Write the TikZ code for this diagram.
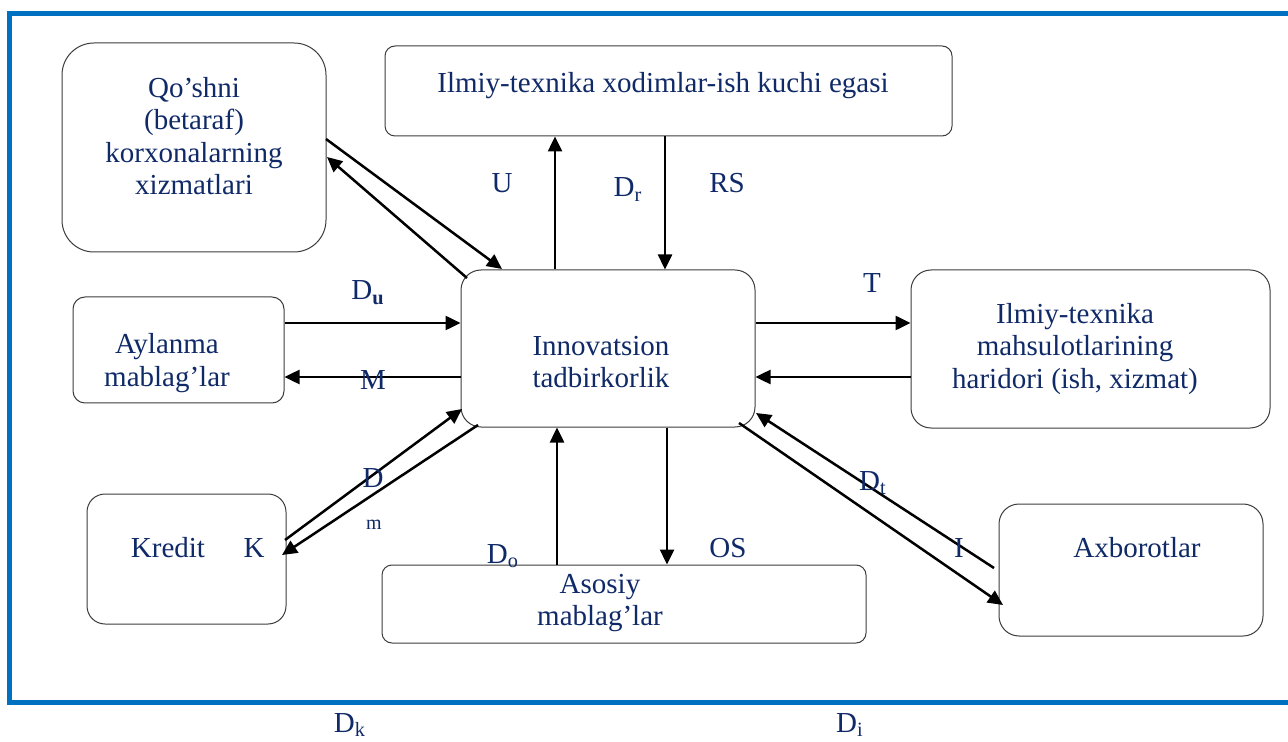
\documentclass[tikz,border=0pt]{standalone}
\usepackage{fontspec}
\setmainfont{Liberation Serif}
\usetikzlibrary{arrows.meta}
\definecolor{navy}{RGB}{16,42,104}
\definecolor{frameblue}{RGB}{0,112,192}
\definecolor{boxline}{RGB}{60,60,60}
\begin{document}
\begin{tikzpicture}[x=0.5pt,y=-0.5pt,
  box/.style={draw=boxline, line width=0.5pt, fill=white, inner sep=0pt},
  txt/.style={text=navy, font=\fontsize{14.5}{16.3}\selectfont, align=center, inner sep=0pt},
  lbl/.style={text=navy, font=\fontsize{14.5}{16.3}\selectfont, inner sep=0pt, anchor=base},
  small/.style={text=navy, font=\fontsize{10}{12}\selectfont, inner sep=0pt, anchor=base},
  arr/.style={line width=1.25pt, -{Triangle[length=7.5pt,width=7pt]}}]
\useasboundingbox (0,0) rectangle (1288,742);
% frame
\draw[frameblue, line width=2.5pt] (1288,14) -- (9.5,14) -- (9.5,702.5) -- (1288,702.5);
% boxes
\node[box, rounded corners=16pt, minimum width=132pt, minimum height=104.5pt] (qoshni) at (194,147.5) {};
\node[box, rounded corners=5pt, minimum width=283.5pt, minimum height=45pt] (xodim) at (668.5,91) {};
\node[box, rounded corners=10pt, minimum width=147pt, minimum height=78.5pt] (innov) at (608,348.5) {};
\node[box, rounded corners=10pt, minimum width=179.5pt, minimum height=79pt] (harid) at (1090.5,349) {};
\node[box, rounded corners=6pt, minimum width=105.5pt, minimum height=53pt] (aylan) at (178.5,350) {};
\node[box, rounded corners=9pt, minimum width=99.5pt, minimum height=65pt] (kredit) at (186.5,559) {};
\node[box, rounded corners=5pt, minimum width=242pt, minimum height=39pt] (asosiy) at (624,604) {};
\node[box, rounded corners=10pt, minimum width=132pt, minimum height=66pt] (axbor) at (1131,570) {};
% box texts
\node[txt] (tqoshni) at (194,136) {Qo’shni\\(betaraf)\\korxonalarning\\xizmatlari};
\node[lbl] (txodim) at (663,93) {Ilmiy-texnika xodimlar-ish kuchi egasi};
\node[txt] (tinnov) at (601,362) {Innovatsion\\tadbirkorlik};
\node[txt] (tharid) at (1075,349) {Ilmiy-texnika\\mahsulotlarining\\haridori (ish, xizmat)};
\node[txt] (taylan) at (167,363) {Aylanma\\mablag’lar};
\node[lbl] (tkredit) at (168,557) {Kredit};
\node[txt] (tasosiy) at (600,603) {Asosiy\\mablag’lar};
\node[lbl] (taxbor) at (1137,557) {Axborotlar};
% x / y helper coordinates
\coordinate (xu) at (555,0);
\coordinate (xr) at (665,0);
\coordinate (xdo) at (557,0);
\coordinate (xos) at (667,0);
\coordinate (yin) at (0,323);
\coordinate (yout) at (0,377);
% vertical arrows
\draw[arr] (innov.north -| xu) -- (xodim.south -| xu);
\draw[arr] (xodim.south -| xr) -- (innov.north -| xr);
\draw[arr] (asosiy.north -| xdo) -- (innov.south -| xdo);
\draw[arr] (innov.south -| xos) -- (asosiy.north -| xos);
% horizontal arrows
\draw[arr] (aylan.east |- yin) -- (innov.west |- yin);
\draw[arr] (innov.west |- yout) -- (aylan.east |- yout);
\draw[arr] (innov.east |- yin) -- (harid.west |- yin);
\draw[arr] (harid.west |- yout) -- (innov.east |- yout);
% diagonal endpoints
\coordinate (qa1) at (326,139);
\coordinate (qa2) at (502,269);
\coordinate (qb1) at (467,278);
\coordinate (qb2) at (327,157);
\coordinate (ka1) at (285,540);
\coordinate (ka2) at (462,409);
\coordinate (kb1) at (478,425);
\coordinate (kb2) at (282,555);
\coordinate (aa1) at (994,568);
\coordinate (aa2) at (756,413);
\coordinate (ab1) at (739,423);
\coordinate (ab2) at (1003,605);
\draw[arr] (qa1) -- (qa2);
\draw[arr] (qb1) -- (qb2);
\draw[arr] (ka1) -- (ka2);
\draw[arr] (kb1) -- (kb2);
\draw[arr] (aa1) -- (aa2);
\draw[arr] (ab1) -- (ab2);
% labels
\node[lbl] (lU) at (502,193) {U};
\node[lbl] (lDr) at (628,197) {D\textsubscript{r}};
\node[lbl] (lRS) at (727,193) {RS};
\node[lbl] (lDu) at (368,300) {D\textsubscript{\textbf{u}}};
\node[lbl] (lM) at (373,390) {M};
\node[lbl] (lT) at (872,293) {T};
\node[lbl] (lD) at (373,487) {D};
\node[small] (lm) at (374,529) {m};
\node[lbl] (lK) at (254,557) {K};
\node[lbl] (lDo) at (503,563) {D\textsubscript{o}};
\node[lbl] (lOS) at (728,557) {OS};
\node[lbl] (lDt) at (873,490) {D\textsubscript{t}};
\node[lbl] (lI) at (959,557) {I};
\node[lbl] (lDk) at (350,732) {D\textsubscript{k}};
\node[lbl] (lDi) at (850,732) {D\textsubscript{i}};
\end{tikzpicture}
\end{document}
